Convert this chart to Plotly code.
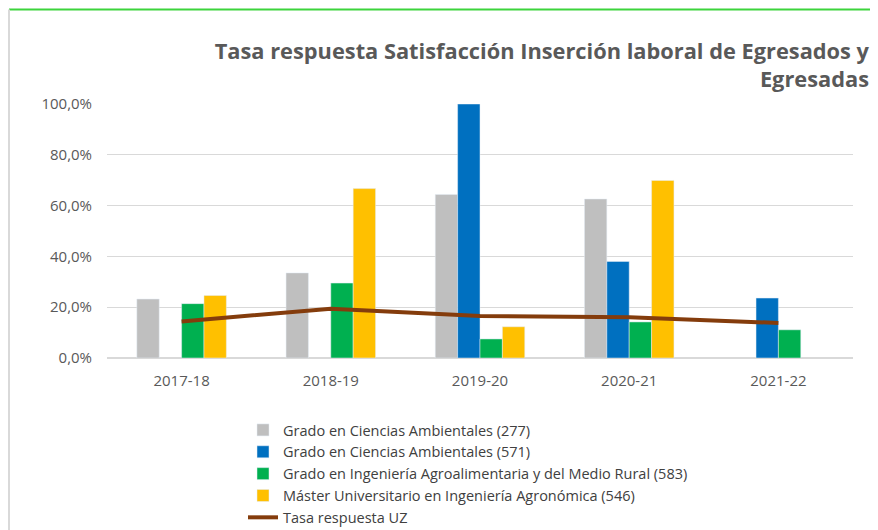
import plotly.graph_objects as go

cursos = ["2017-18", "2018-19", "2019-20", "2020-21", "2021-22"]

ccaa_277 = [0.232, 0.335, 0.644, 0.626, None]
ccaa_571 = [None, None, 1.0, 0.380, 0.236]
agro_583 = [0.214, 0.295, 0.075, 0.142, 0.111]
master_546 = [0.246, 0.667, 0.123, 0.699, None]
tasa_uz = [0.144, 0.194, 0.165, 0.160, 0.138]

# page body has an 8px margin, so the figure is a bit smaller and everything is shifted
OFF = 8
W, H = 878 - OFF, 530 - OFF
L, R, T, B = 99, 25, 96, 172
PW, PH = W - L - R, H - T - B


def px2paper(x, y):
    # reference pixel position -> paper coords of the plot area
    fx, fy = x - OFF, y - OFF
    return (fx - L) / PW, (H - B - fy) / PH


fig = go.Figure()
fig.add_trace(go.Bar(name="Grado en Ciencias Ambientales (277)", x=cursos, y=ccaa_277,
                     marker_color="#BFBFBF"))
fig.add_trace(go.Bar(name="Grado en Ciencias Ambientales (571)", x=cursos, y=ccaa_571,
                     marker_color="#0070C0"))
fig.add_trace(go.Bar(name="Grado en Ingeniería Agroalimentaria y del Medio Rural (583)", x=cursos,
                     y=agro_583, marker_color="#00B050"))
fig.add_trace(go.Bar(name="Máster Universitario en Ingeniería Agronómica (546)", x=cursos,
                     y=master_546, marker_color="#FFC000"))
fig.add_trace(go.Scatter(name="Tasa respuesta UZ", x=cursos, y=tasa_uz, mode="lines",
                         line=dict(color="#843C0C", width=4)))

# frame bits: green rule on top, grey border on the left
x0, ytop = px2paper(9, 9.5)
x1, _ = px2paper(880, 9.5)
_, ybot = px2paper(9, 540)
fig.add_shape(type="line", xref="paper", yref="paper", x0=x0, x1=x1, y0=ytop, y1=ytop,
              line=dict(color="#3CD43C", width=2))
fig.add_shape(type="line", xref="paper", yref="paper", x0=x0, x1=x0, y0=ytop, y1=ybot,
              line=dict(color="#D9D9D9", width=2))

lx, ly = px2paper(243, 414)
fig.update_layout(
    width=W, height=H,
    margin=dict(l=L, r=R, t=T, b=B, autoexpand=False),
    paper_bgcolor="white", plot_bgcolor="white",
    separators=",.",
    barmode="group", bargap=0.4, bargroupgap=0,
    font=dict(family="Open Sans", color="#595959", size=15),
    title=dict(text="Tasa respuesta Satisfacción Inserción laboral de Egresados y<br>Egresadas",
               x=(869 - OFF) / W, xanchor="right", xref="container",
               y=1 - 51 / H, yanchor="top", yref="container",
               font=dict(family="Open Sans", size=21.8, color="#595959", weight="bold")),
    legend=dict(x=lx, y=ly, xanchor="left", yanchor="top", orientation="v",
                font=dict(size=14.5, color="#404040"), bgcolor="rgba(0,0,0,0)"),
    showlegend=True,
)
fig.update_yaxes(range=[0, 1], dtick=0.2, tickformat=".1%", gridcolor="#D9D9D9",
                 zeroline=True, zerolinecolor="#D9D9D9", zerolinewidth=1.5,
                 showline=False, ticks="", ticklabelstandoff=14,
                 tickfont=dict(color="#595959", size=15))
fig.update_xaxes(showgrid=False, showline=False, ticks="", ticklabelstandoff=12,
                 tickfont=dict(color="#595959", size=15))

fig.write_html("out.html")
